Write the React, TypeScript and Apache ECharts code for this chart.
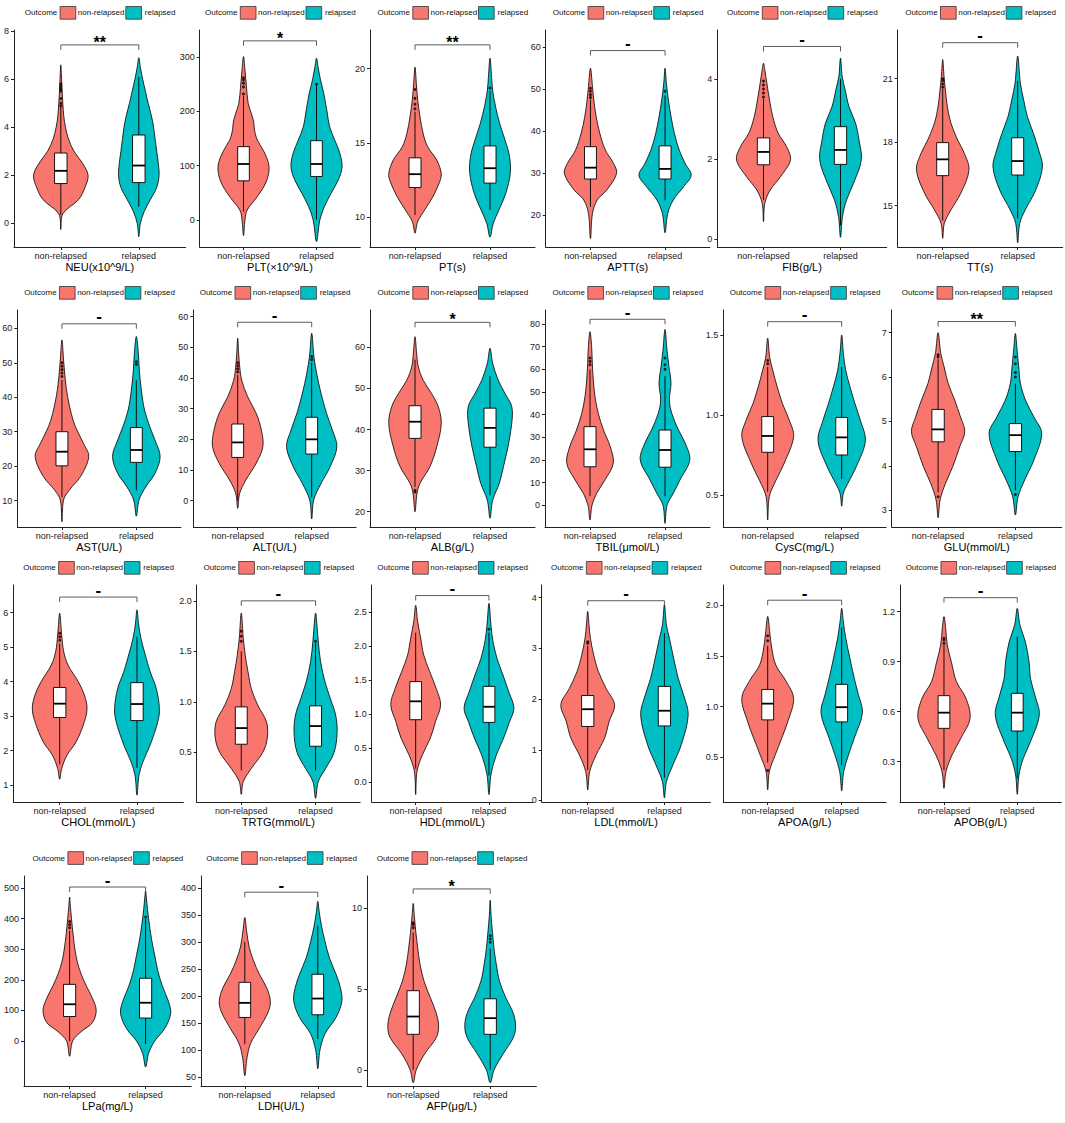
import React, { useEffect, useRef } from 'react';
import * as echarts from 'echarts';

const GROUPS = ['non-relapsed', 'relapsed'];
const LEGEND_TITLE = 'Outcome';
const COLORS = ['#F8766D', '#00BFC4'];

const TITLES = ['NEU(x10^9/L)', 'PLT(×10^9/L)', 'PT(s)', 'APTT(s)', 'FIB(g/L)', 'TT(s)',
  'AST(U/L)', 'ALT(U/L)', 'ALB(g/L)', 'TBIL(μmol/L)', 'CysC(mg/L)', 'GLU(mmol/L)',
  'CHOL(mmol/L)', 'TRTG(mmol/L)', 'HDL(mmol/L)', 'LDL(mmol/L)', 'APOA(g/L)', 'APOB(g/L)',
  'LPa(mg/L)', 'LDH(U/L)', 'AFP(μg/L)'];

const SIGNIF = ['**', '*', '**', '-', '-', '-', '-', '-', '*', '-', '-', '**', '-', '-', '-', '-', '-', '-', '-', '-', '*'];

const Y_TICKS = [
  ['0', '2', '4', '6', '8'], ['0', '100', '200', '300'], ['10', '15', '20'], ['20', '30', '40', '50', '60'], ['0', '2', '4'], ['15', '18', '21'],
  ['10', '20', '30', '40', '50', '60'], ['0', '10', '20', '30', '40', '50', '60'], ['20', '30', '40', '50', '60'], ['0', '10', '20', '30', '40', '50', '60', '70', '80'], ['0.5', '1.0', '1.5'], ['3', '4', '5', '6', '7'],
  ['1', '2', '3', '4', '5', '6'], ['0.5', '1.0', '1.5', '2.0'], ['0.0', '0.5', '1.0', '1.5', '2.0', '2.5'], ['0', '1', '2', '3', '4'], ['0.5', '1.0', '1.5', '2.0'], ['0.3', '0.6', '0.9', '1.2'],
  ['0', '100', '200', '300', '400', '500'], ['50', '100', '150', '200', '250', '300', '350', '400'], ['0', '5', '10'],
];

const Y_RANGE = [
  [-0.98, 8.05], [-50, 350], [8.0, 22.6], [12.4, 64.1], [-0.19, 5.22], [13.05, 23.3],
  [2.36, 65.3], [-8.6, 62.2], [16.27, 69.1], [-9.6, 86.2], [0.3, 1.656], [2.62, 7.51],
  [0.51, 6.8], [0.008, 2.157], [-0.29, 2.9], [-0.03, 4.25], [0.06, 2.2], [0.058, 1.36],
  [-147, 539], [33, 422], [-1.0, 12.0],
];

const BRACKET_Y = [7.43, 330, 21.6, 59.2, 4.81, 22.7, 61.3, 58.2, 66.1, 82.1, 1.583, 7.25, 6.45, 2.0, 2.745, 3.94, 2.05, 1.284, 503, 392, 11.2];

// [lower whisker, Q1, median, Q3, upper whisker]
const BOX_NON = [
  [0.35, 1.66, 2.19, 2.93, 4.85], [15, 72, 103, 135, 228], [10.15, 12.0, 12.9, 14.0, 17.1], [22, 28.6, 31.3, 36.3, 47.5], [0.98, 1.86, 2.18, 2.53, 3.5], [14.3, 16.42, 17.19, 17.98, 20.5],
  [11, 20.1, 24.2, 30, 45], [0, 14.1, 19, 25, 41], [26, 37.85, 41.9, 45.8, 57], [4, 17, 24.7, 34.7, 60], [0.52, 0.767, 0.869, 0.99, 1.3], [3.4, 4.54, 4.82, 5.27, 6.4],
  [1.6, 2.96, 3.36, 3.83, 5.1], [0.32, 0.58, 0.74, 0.95, 1.5], [0.2, 0.92, 1.19, 1.48, 2.2], [0.6, 1.46, 1.8, 2.07, 3.05], [0.45, 0.87, 1.03, 1.17, 1.6], [0.25, 0.5, 0.594, 0.696, 1.0],
  [0, 80, 120, 185, 360], [110, 160, 187, 225, 300], [0, 2.2, 3.3, 4.9, 8.5],
];
const BOX_REL = [
  [0.7, 1.7, 2.41, 3.68, 6.1], [0, 80, 103, 146, 248], [10.5, 12.3, 13.3, 14.8, 18.5], [23.5, 28.6, 31.0, 36.5, 48.5], [0.35, 1.87, 2.23, 2.81, 4.0], [14.4, 16.45, 17.11, 18.21, 20.9],
  [13, 21.1, 24.7, 31.2, 45], [1, 15.2, 20, 27.2, 45], [24, 35.7, 40.4, 45.2, 53], [4, 16.8, 24.4, 33.2, 57], [0.6, 0.75, 0.86, 0.985, 1.3], [3.45, 4.32, 4.69, 4.95, 5.85],
  [1.5, 2.87, 3.35, 3.97, 5.3], [0.32, 0.56, 0.76, 0.96, 1.58], [0.1, 0.88, 1.11, 1.41, 2.2], [0.45, 1.47, 1.77, 2.25, 3.3], [0.42, 0.85, 0.995, 1.22, 1.78], [0.2, 0.484, 0.594, 0.71, 1.05],
  [-10, 75, 125, 205, 400], [120, 165, 195, 240, 330], [0, 2.2, 3.2, 4.4, 7.5],
];

const OUT_NON = [
  [4.9, 5.0, 5.2, 5.5, 5.6, 5.7, 5.8], [232, 245, 252, 258, 262], [17.3, 17.6, 18.0, 18.6], [48, 48.7, 49.5, 50.2], [3.55, 3.65, 3.75, 3.85, 3.95], [20.6, 20.75, 20.9, 21.0],
  [46, 47, 48, 49, 50], [42, 43, 44, 45], [25.2, 24.8], [62, 63.5, 65], [1.32, 1.34], [3.3, 6.45, 6.5],
  [5.2, 5.3, 5.4], [1.6, 1.65, 1.7], [], [3.1, 3.13], [0.37, 1.65, 1.7], [1.01, 1.03, 1.04],
  [370, 380, 390], [], [8.8, 9.0, 9.1],
];
const OUT_REL = [
  [], [250], [18.7], [49.5], [], [],
  [49.5, 50.3], [46, 47], [], [60, 62, 65], [], [3.35, 6.0, 6.1, 6.3, 6.45],
  [], [1.6], [2.25], [], [], [],
  [405], [], [7.9, 8.1, 8.3],
];

// violin outlines: [value, half width in category units]
const VIOLIN_NON = [
  [[-0.25, 0], [0.4, 0.026], [1.0, 0.23], [1.5, 0.31], [2.0, 0.35], [2.5, 0.28], [3.0, 0.17], [3.5, 0.1], [4.0, 0.06], [4.5, 0.037], [5.0, 0.026], [5.5, 0.017], [6.0, 0.01], [6.6, 0]],
  [[-29, 0], [0, 0.02], [18, 0.05], [43, 0.19], [70, 0.31], [98, 0.35], [126, 0.28], [147, 0.19], [166, 0.15], [180, 0.14], [195, 0.11], [215, 0.064], [246, 0.04], [277, 0.02], [301, 0]],
  [[8.93, 0], [9.7, 0.035], [10.5, 0.13], [11.4, 0.24], [12.4, 0.33], [12.95, 0.35], [13.85, 0.29], [14.74, 0.17], [15.6, 0.11], [16.75, 0.067], [17.9, 0.036], [19.0, 0.018], [20.1, 0]],
  [[14.4, 0], [20.4, 0.027], [23.6, 0.09], [26, 0.22], [29.9, 0.35], [32.3, 0.31], [35.5, 0.2], [39.5, 0.125], [43.5, 0.076], [47.4, 0.045], [50.6, 0.027], [55, 0]],
  [[0.44, 0], [0.9, 0.017], [1.23, 0.087], [1.56, 0.22], [1.98, 0.35], [2.31, 0.3], [2.65, 0.19], [3.06, 0.12], [3.48, 0.078], [3.9, 0.043], [4.23, 0.017], [4.39, 0]],
  [[13.46, 0], [14.17, 0.022], [14.8, 0.11], [15.58, 0.24], [16.68, 0.35], [17.47, 0.29], [18.1, 0.2], [18.9, 0.11], [19.68, 0.062], [20.46, 0.036], [21.1, 0.018], [21.9, 0]],
  [[3.9, 0], [10.2, 0.022], [13.1, 0.1], [17, 0.25], [22.8, 0.36], [26.6, 0.29], [31.5, 0.18], [35.3, 0.125], [40.2, 0.076], [45, 0.045], [50.8, 0.022], [56.6, 0]],
  [[-2.5, 0], [2.4, 0.027], [6.7, 0.11], [12.2, 0.25], [17.6, 0.34], [23, 0.32], [28.5, 0.25], [33.9, 0.135], [39.3, 0.054], [43.7, 0.027], [48, 0.013], [53, 0]],
  [[20, 0], [24.5, 0.027], [26.9, 0.067], [31, 0.2], [35.8, 0.29], [41.5, 0.35], [45.6, 0.31], [48.8, 0.22], [52, 0.11], [55.3, 0.044], [58.5, 0.022], [62.6, 0]],
  [[-6.5, 0], [0, 0.027], [5.3, 0.09], [11.2, 0.2], [18.5, 0.31], [25.9, 0.27], [33.2, 0.18], [40.6, 0.11], [47.9, 0.067], [55.3, 0.044], [62.6, 0.031], [70, 0.022], [76.6, 0]],
  [[0.344, 0], [0.49, 0.022], [0.59, 0.11], [0.7, 0.225], [0.865, 0.35], [0.97, 0.29], [1.07, 0.2], [1.18, 0.126], [1.28, 0.068], [1.36, 0.027], [1.48, 0]],
  [[2.83, 0], [3.23, 0.026], [3.6, 0.095], [3.98, 0.19], [4.43, 0.28], [4.77, 0.345], [5.1, 0.29], [5.48, 0.215], [5.86, 0.13], [6.23, 0.078], [6.53, 0.035], [7.0, 0]],
  [[1.17, 0], [1.48, 0.026], [1.87, 0.095], [2.26, 0.215], [2.84, 0.32], [3.22, 0.354], [3.61, 0.32], [4.0, 0.24], [4.48, 0.108], [4.87, 0.052], [5.35, 0.026], [5.98, 0]],
  [[0.084, 0], [0.21, 0.027], [0.34, 0.135], [0.5, 0.29], [0.64, 0.35], [0.8, 0.34], [0.97, 0.22], [1.13, 0.135], [1.3, 0.09], [1.46, 0.054], [1.63, 0.027], [1.88, 0]],
  [[-0.18, 0], [0.16, 0.018], [0.4, 0.09], [0.65, 0.2], [0.89, 0.27], [1.14, 0.34], [1.38, 0.28], [1.63, 0.19], [1.87, 0.11], [2.12, 0.068], [2.36, 0.027], [2.6, 0]],
  [[0.21, 0], [0.57, 0.026], [0.9, 0.11], [1.23, 0.22], [1.56, 0.28], [1.89, 0.35], [2.21, 0.24], [2.54, 0.14], [2.87, 0.078], [3.2, 0.035], [3.46, 0.017], [3.73, 0]],
  [[0.18, 0], [0.36, 0.022], [0.52, 0.1], [0.69, 0.19], [0.85, 0.27], [1.08, 0.35], [1.25, 0.25], [1.41, 0.11], [1.58, 0.054], [1.74, 0.027], [1.89, 0]],
  [[0.14, 0], [0.24, 0.027], [0.34, 0.11], [0.44, 0.23], [0.56, 0.355], [0.68, 0.3], [0.78, 0.17], [0.9, 0.1], [1.0, 0.045], [1.1, 0.023], [1.17, 0]],
  [[-50, 0], [0, 0.04], [30, 0.15], [60, 0.3], [100, 0.35], [140, 0.3], [180, 0.22], [220, 0.15], [260, 0.1], [300, 0.07], [350, 0.045], [400, 0.025], [440, 0.01], [470, 0]],
  [[52, 0], [85, 0.03], [112, 0.08], [140, 0.2], [170, 0.32], [190, 0.35], [215, 0.3], [240, 0.2], [265, 0.12], [290, 0.06], [320, 0.025], [345, 0]],
  [[-0.8, 0], [0, 0.04], [1, 0.15], [2, 0.3], [2.7, 0.33], [3.5, 0.3], [4.5, 0.22], [5.5, 0.14], [6.5, 0.09], [7.5, 0.06], [8.5, 0.035], [9.5, 0.015], [10.3, 0]],
];
const VIOLIN_REL = [
  [[-0.55, 0], [0, 0.02], [0.5, 0.07], [1.0, 0.15], [1.5, 0.23], [2.0, 0.26], [2.5, 0.25], [3.0, 0.23], [3.5, 0.21], [4.0, 0.19], [4.5, 0.16], [5.0, 0.12], [5.5, 0.085], [6.0, 0.05], [6.5, 0.02], [6.9, 0]],
  [[-40, 0], [0, 0.046], [25, 0.11], [49, 0.2], [74, 0.3], [98, 0.35], [123, 0.32], [147, 0.25], [172, 0.18], [203, 0.14], [233, 0.1], [258, 0.055], [283, 0.02], [298, 0]],
  [[8.66, 0], [9.6, 0.044], [10.5, 0.12], [11.6, 0.21], [12.95, 0.27], [14.1, 0.26], [15.2, 0.2], [16.3, 0.13], [17.4, 0.076], [18.5, 0.036], [19.4, 0.022], [20.7, 0]],
  [[15.8, 0], [20.4, 0.036], [23.6, 0.11], [26.8, 0.25], [29.5, 0.35], [32.3, 0.27], [35.5, 0.19], [39.5, 0.125], [43.5, 0.08], [47.4, 0.045], [51.4, 0.018], [55, 0]],
  [[0.05, 0], [0.57, 0.026], [0.98, 0.078], [1.4, 0.17], [1.98, 0.27], [2.48, 0.24], [2.9, 0.195], [3.31, 0.11], [3.73, 0.06], [4.06, 0.022], [4.52, 0]],
  [[13.25, 0], [14.17, 0.027], [14.8, 0.1], [15.74, 0.24], [16.84, 0.33], [17.63, 0.28], [18.42, 0.21], [19.2, 0.13], [19.99, 0.08], [20.78, 0.036], [22.07, 0]],
  [[5.5, 0], [10.2, 0.036], [14.1, 0.13], [17.9, 0.25], [22.8, 0.32], [27.6, 0.25], [31.5, 0.18], [36.3, 0.11], [42.1, 0.067], [47.9, 0.04], [52.7, 0.027], [57.6, 0]],
  [[-6, 0], [0.2, 0.027], [5.6, 0.126], [11.1, 0.25], [17.6, 0.34], [23, 0.28], [28.5, 0.2], [35, 0.126], [41.5, 0.067], [47, 0.03], [54.6, 0]],
  [[18.4, 0], [22.8, 0.036], [26.9, 0.124], [31, 0.18], [35.8, 0.24], [41.5, 0.29], [45.6, 0.29], [48.8, 0.2], [52, 0.11], [56.1, 0.036], [59.8, 0]],
  [[-8, 0], [0, 0.027], [5.3, 0.11], [11.2, 0.2], [20, 0.33], [27.4, 0.27], [33.2, 0.18], [40.6, 0.09], [46.5, 0.058], [53.8, 0.08], [61.2, 0.053], [68.5, 0.027], [77.6, 0]],
  [[0.43, 0], [0.51, 0.022], [0.57, 0.08], [0.68, 0.2], [0.84, 0.32], [0.97, 0.25], [1.07, 0.18], [1.18, 0.11], [1.28, 0.054], [1.39, 0.022], [1.5, 0]],
  [[2.89, 0], [3.3, 0.035], [3.68, 0.12], [4.13, 0.24], [4.73, 0.34], [5.1, 0.24], [5.48, 0.13], [5.86, 0.065], [6.23, 0.043], [6.61, 0.022], [6.98, 0]],
  [[0.71, 0], [1.29, 0.026], [1.68, 0.078], [2.16, 0.17], [2.84, 0.27], [3.22, 0.29], [3.8, 0.25], [4.29, 0.17], [4.77, 0.108], [5.25, 0.052], [5.64, 0.022], [6.08, 0]],
  [[0.045, 0], [0.21, 0.036], [0.34, 0.135], [0.5, 0.25], [0.7, 0.29], [0.87, 0.27], [1.03, 0.2], [1.2, 0.126], [1.4, 0.067], [1.6, 0.036], [1.73, 0.022], [1.88, 0]],
  [[-0.18, 0], [0.11, 0.027], [0.4, 0.1], [0.65, 0.2], [0.89, 0.28], [1.09, 0.34], [1.33, 0.27], [1.58, 0.19], [1.82, 0.11], [2.07, 0.055], [2.31, 0.027], [2.63, 0]],
  [[0.05, 0], [0.37, 0.026], [0.7, 0.11], [1.1, 0.22], [1.69, 0.31], [2.08, 0.25], [2.41, 0.18], [2.81, 0.12], [3.2, 0.065], [3.46, 0.026], [3.86, 0]],
  [[0.17, 0], [0.36, 0.027], [0.52, 0.09], [0.69, 0.17], [0.94, 0.28], [1.12, 0.225], [1.28, 0.17], [1.48, 0.11], [1.68, 0.054], [1.84, 0.022], [1.97, 0]],
  [[0.104, 0], [0.22, 0.023], [0.32, 0.082], [0.42, 0.18], [0.58, 0.3], [0.7, 0.24], [0.8, 0.18], [0.9, 0.16], [1.02, 0.11], [1.12, 0.036], [1.22, 0]],
  [[-85, 0], [-40, 0.04], [0, 0.12], [40, 0.25], [90, 0.33], [130, 0.3], [180, 0.22], [230, 0.16], [280, 0.12], [330, 0.08], [380, 0.05], [430, 0.025], [470, 0.01], [490, 0]],
  [[65, 0], [100, 0.03], [130, 0.1], [160, 0.25], [190, 0.33], [215, 0.31], [240, 0.25], [270, 0.16], [300, 0.1], [330, 0.05], [355, 0.02], [375, 0]],
  [[-0.8, 0], [0, 0.05], [1, 0.17], [2, 0.3], [2.7, 0.33], [3.5, 0.3], [4.5, 0.2], [5.5, 0.12], [6.5, 0.08], [7.5, 0.05], [8.5, 0.03], [9.5, 0.012], [10.5, 0]],
];

// ---- layout (pixels) ----
const PANEL_LEFT = [14, 199.7, 370, 545.7, 717.3, 897.7, 17.3, 193.3, 370, 545, 723.3, 891.7, 13.3, 196.7, 371.7, 541.7, 723.3, 900, 24, 201, 367];
const PANEL_SPACING = [78, 73, 75, 74.6, 77, 75, 74.4, 74, 75, 75, 74, 77.3, 77.3, 74.3, 73.3, 76.7, 74, 73.3, 76, 73, 77];
const ROW_TOP = [30, 310, 585, 876];
const ROW_BOTTOM = [247, 527, 802, 1086];
const ROW_LEGEND = [12.8, 292.8, 567.8, 858];
const BOX_HALF = 0.08;
const FONT = '"Liberation Sans", Arial, Helvetica, sans-serif';

function buildOption() {
  const grid: any[] = [];
  const xAxis: any[] = [];
  const yAxis: any[] = [];
  const series: any[] = [];
  const graphic: any[] = [];

  for (let i = 0; i < TITLES.length; i++) {
    const row = i < 6 ? 0 : i < 12 ? 1 : i < 18 ? 2 : 3;
    const L = PANEL_LEFT[i];
    const s = PANEL_SPACING[i];
    const top = ROW_TOP[row];
    const bottom = ROW_BOTTOM[row];
    grid.push({ left: L, top, width: 2.2 * s, height: bottom - top, containLabel: false, outerBoundsMode: 'none' });

    xAxis.push({
      gridIndex: i, type: 'value', min: 0.4, max: 2.6,
      name: TITLES[i], nameLocation: 'middle', nameGap: 14.5,
      nameTextStyle: { fontSize: 11, color: '#000', fontFamily: FONT },
      axisLine: { onZero: false, lineStyle: { color: '#222', width: 1 } },
      axisTick: { show: true, customValues: [1, 2], length: 3, lineStyle: { color: '#222', width: 1 } },
      axisLabel: { show: true, customValues: [1, 2], formatter: (v: number) => (v < 1.5 ? GROUPS[0] : GROUPS[1]), margin: 4, fontSize: 9, color: '#1a1a1a', fontFamily: FONT },
      splitLine: { show: false },
    });

    const labels = Y_TICKS[i];
    const vals = labels.map(Number);
    yAxis.push({
      gridIndex: i, type: 'value', min: Y_RANGE[i][0], max: Y_RANGE[i][1],
      axisLine: { show: true, onZero: false, lineStyle: { color: '#222', width: 1 } },
      axisTick: { show: true, customValues: vals, length: 3, lineStyle: { color: '#222', width: 1 } },
      axisLabel: {
        show: true, customValues: vals, margin: 5, fontSize: 9, color: '#1a1a1a', fontFamily: FONT,
        formatter: (v: number) => { const k = vals.findIndex((t) => Math.abs(t - v) < 1e-9); return k >= 0 ? labels[k] : ''; },
      },
      splitLine: { show: false },
    });

    // violins
    series.push({
      type: 'custom', xAxisIndex: i, yAxisIndex: i, silent: true, clip: false, z: 2,
      data: [[1, BOX_NON[i][2]], [2, BOX_REL[i][2]]],
      encode: { x: 0, y: 1 },
      renderItem: (params: any, api: any) => {
        const g = params.dataIndex;
        const cx = g + 1;
        const prof = g === 0 ? VIOLIN_NON[i] : VIOLIN_REL[i];
        const right = prof.map(([y, w]) => api.coord([cx + w, y]));
        const left = prof.slice(1, -1).reverse().map(([y, w]) => api.coord([cx - w, y]));
        return {
          type: 'polygon',
          shape: { points: right.concat(left), smooth: 0.35 },
          style: { fill: COLORS[g], stroke: '#000', lineWidth: 0.8 },
        };
      },
    });

    // boxes
    series.push({
      type: 'custom', xAxisIndex: i, yAxisIndex: i, silent: true, clip: false, z: 3,
      data: [[1, BOX_NON[i][2]], [2, BOX_REL[i][2]]],
      encode: { x: 0, y: 1 },
      renderItem: (params: any, api: any) => {
        const g = params.dataIndex;
        const cx = g + 1;
        const b = g === 0 ? BOX_NON[i] : BOX_REL[i];
        const pLo = api.coord([cx, b[0]]);
        const pQ1 = api.coord([cx, b[1]]);
        const pMed = api.coord([cx, b[2]]);
        const pQ3 = api.coord([cx, b[3]]);
        const pHi = api.coord([cx, b[4]]);
        const xl = api.coord([cx - BOX_HALF, b[1]])[0];
        const xr = api.coord([cx + BOX_HALF, b[1]])[0];
        return {
          type: 'group',
          children: [
            { type: 'line', shape: { x1: pLo[0], y1: pLo[1], x2: pQ1[0], y2: pQ1[1] }, style: { stroke: '#000', lineWidth: 0.9 } },
            { type: 'line', shape: { x1: pQ3[0], y1: pQ3[1], x2: pHi[0], y2: pHi[1] }, style: { stroke: '#000', lineWidth: 0.9 } },
            { type: 'rect', shape: { x: xl, y: pQ3[1], width: xr - xl, height: pQ1[1] - pQ3[1] }, style: { fill: '#fff', stroke: '#000', lineWidth: 0.9 } },
            { type: 'line', shape: { x1: xl, y1: pMed[1], x2: xr, y2: pMed[1] }, style: { stroke: '#000', lineWidth: 1.8 } },
          ],
        };
      },
    });

    // outliers
    series.push({
      type: 'scatter', xAxisIndex: i, yAxisIndex: i, silent: true, z: 4,
      symbolSize: 3, itemStyle: { color: '#000' },
      data: OUT_NON[i].map((v) => [1, v]).concat(OUT_REL[i].map((v) => [2, v])),
    });

    // significance bracket
    series.push({
      type: 'custom', xAxisIndex: i, yAxisIndex: i, silent: true, clip: false, z: 5,
      data: [[1.5, BRACKET_Y[i]]],
      encode: { x: 0, y: 1 },
      renderItem: (params: any, api: any) => {
        const yb = BRACKET_Y[i];
        const p1 = api.coord([1, yb]);
        const p2 = api.coord([2, yb]);
        const lab = SIGNIF[i];
        const isDash = lab === '-';
        return {
          type: 'group',
          children: [
            { type: 'polyline', shape: { points: [[p1[0], p1[1] + 5], [p1[0], p1[1]], [p2[0], p2[1]], [p2[0], p2[1] + 5]] }, style: { stroke: '#333', lineWidth: 0.8, fill: 'none' } },
            {
              type: 'text', x: (p1[0] + p2[0]) / 2, y: p1[1] - (isDash ? 7 : 2.4),
              style: { text: lab, fontSize: isDash ? 17 : 16, fontWeight: 'bold', fill: '#000', align: 'center', verticalAlign: 'middle', fontFamily: FONT },
            },
          ],
        };
      },
    });

    // legend
    const mid = L + 1.1 * s;
    const sx = mid - 75;
    const ly = ROW_LEGEND[row];
    const txt = (x: number, t: string) => ({ type: 'text', x, y: ly, silent: true, style: { text: t, fontSize: 8, fill: '#111', align: 'left', verticalAlign: 'middle', fontFamily: FONT } });
    const box = (x: number, c: string) => ({ type: 'rect', x, y: ly - 6.3, silent: true, shape: { x: 0, y: 0, width: 15.7, height: 12.7 }, style: { fill: c, stroke: '#333', lineWidth: 0.8 } });
    graphic.push(txt(sx, LEGEND_TITLE), box(sx + 35.3, COLORS[0]), txt(sx + 53, GROUPS[0]), box(sx + 101, COLORS[1]), txt(sx + 120, GROUPS[1]));
  }

  return { animation: false, backgroundColor: '#fff', grid, xAxis, yAxis, series, graphic };
}

export default function App() {
  const ref = useRef<HTMLDivElement>(null);
  useEffect(() => {
    document.body.style.margin = '0';
    const chart = echarts.init(ref.current!, null, { renderer: 'svg' });
    chart.setOption(buildOption() as any);
    return () => chart.dispose();
  }, []);
  return <div ref={ref} style={{ width: 1065, height: 1123 }} />;
}
